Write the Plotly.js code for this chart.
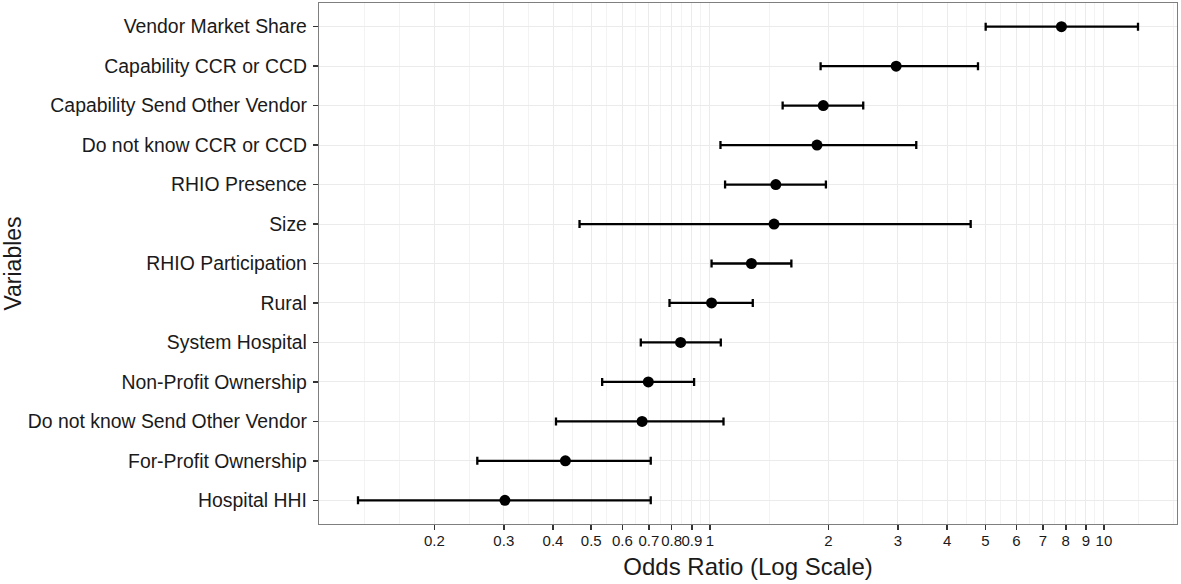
<!DOCTYPE html>
<html>
<head>
<meta charset="utf-8">
<script src="https://cdn.plot.ly/plotly-3.0.1.min.js"></script>
<style>html,body{margin:0;padding:0;background:#fff;}#chart{width:1181px;height:584px;}</style>
</head>
<body>
<div id="chart"></div>
<script>
// Variables, top to bottom
const variables = [
  "Vendor Market Share",
  "Capability CCR or CCD",
  "Capability Send Other Vendor",
  "Do not know CCR or CCD",
  "RHIO Presence",
  "Size",
  "RHIO Participation",
  "Rural",
  "System Hospital",
  "Non-Profit Ownership",
  "Do not know Send Other Vendor",
  "For-Profit Ownership",
  "Hospital HHI"
];
// Odds ratios and 95% CI bounds
const oddsRatio = [7.80, 2.97, 1.94, 1.87, 1.47, 1.455, 1.275, 1.01, 0.843, 0.698, 0.673, 0.430, 0.302];
const ciLower   = [5.01, 1.91, 1.53, 1.064, 1.093, 0.467, 1.01, 0.79, 0.668, 0.533, 0.407, 0.257, 0.128];
const ciUpper   = [12.2, 4.79, 2.45, 3.34, 1.97, 4.59, 1.61, 1.285, 1.066, 0.912, 1.083, 0.708, 0.708];
// X tick values and labels
const xTickVals   = [0.2, 0.3, 0.4, 0.5, 0.6, 0.7, 0.8, 0.9, 1, 2, 3, 4, 5, 6, 7, 8, 9, 10];
const xTickLabels = ["0.2","0.3","0.4","0.5","0.6","0.7","0.8","0.9","1","2","3","4","5","6","7","8","9","10"];
const refLine = 1;

// ggplot-style range expansion (5%) on log scale
const lg = v => Math.log10(v);
const lo = Math.min(...ciLower.map(lg)), hi = Math.max(...ciUpper.map(lg));
const pad = (hi - lo) * 0.05;
const xRange = [lo - pad, hi + pad];

// ggplot-style minor breaks (midpoints in log space, extended by first step)
const lb = xTickVals.map(lg);
const step = lb[1] - lb[0];
let ext = lb.slice();
if (xRange[0] < ext[0]) ext.unshift(ext[0] - step);
if (xRange[1] > ext[ext.length - 1]) ext.push(ext[ext.length - 1] + step);
const minorVals = [];
for (let i = 0; i < ext.length - 1; i++) {
  minorVals.push(Math.pow(10, ext[i]));
  minorVals.push(Math.pow(10, (ext[i] + ext[i + 1]) / 2));
}
minorVals.push(Math.pow(10, ext[ext.length - 1]));
const minorOnly = minorVals.filter(v => !xTickVals.some(t => Math.abs(lg(t) - lg(v)) < 1e-6));

const font = "Liberation Sans, Arial, Helvetica, sans-serif";
const txt = "#1a1a1a";

const trace = {
  type: "scatter",
  mode: "markers",
  x: oddsRatio,
  y: variables,
  marker: {color: "#000", size: 11},
  error_x: {
    type: "data",
    symmetric: false,
    array: oddsRatio.map((v, i) => ciUpper[i] - v),
    arrayminus: oddsRatio.map((v, i) => v - ciLower[i]),
    color: "#000",
    thickness: 2.3,
    width: 4
  },
  hoverinfo: "x+y",
  showlegend: false
};

const layout = {
  width: 1181,
  height: 584,
  margin: {l: 319, r: 4, t: 3, b: 60},
  paper_bgcolor: "#fff",
  plot_bgcolor: "#fff",
  font: {family: font, color: txt},
  xaxis: {
    type: "log",
    range: xRange,
    tickmode: "array",
    tickvals: xTickVals,
    ticktext: xTickLabels,
    tickangle: 0,
    tickfont: {size: 15, color: txt},
    ticklabelstandoff: -2,
    ticks: "outside",
    ticklen: 5,
    tickwidth: 1.5,
    tickcolor: "#333",
    showgrid: true,
    gridcolor: "#ebebeb",
    gridwidth: 1,
    minor: {tickmode: "array", tickvals: minorOnly, showgrid: true, gridcolor: "#f0f0f0", gridwidth: 0.8, ticks: ""},
    zeroline: false,
    showline: true,
    mirror: true,
    linecolor: "#7f7f7f",
    linewidth: 1.2,
    title: {text: "Odds Ratio (Log Scale)", font: {size: 24, color: txt}, standoff: 10},
    automargin: false
  },
  yaxis: {
    type: "category",
    categoryorder: "array",
    categoryarray: variables,
    range: [variables.length - 0.4, -0.6],
    tickfont: {size: 19.4, color: txt},
    ticklabelstandoff: 2,
    ticks: "outside",
    ticklen: 5,
    tickwidth: 1.5,
    tickcolor: "#333",
    showgrid: true,
    gridcolor: "#ebebeb",
    gridwidth: 1,
    zeroline: false,
    showline: true,
    mirror: true,
    linecolor: "#7f7f7f",
    linewidth: 1.2,
    title: {text: "Variables", font: {size: 23, color: txt}, standoff: 4},
    automargin: false
  },
  shapes: [{
    type: "line",
    xref: "x", yref: "paper",
    x0: lg(refLine), x1: lg(refLine), y0: 0, y1: 1,
    line: {color: "#000", width: 2.5, dash: "8px,5px"},
    layer: "below"
  }]
};

Plotly.newPlot("chart", [trace], layout, {displayModeBar: false, staticPlot: true});
</script>
</body>
</html>
